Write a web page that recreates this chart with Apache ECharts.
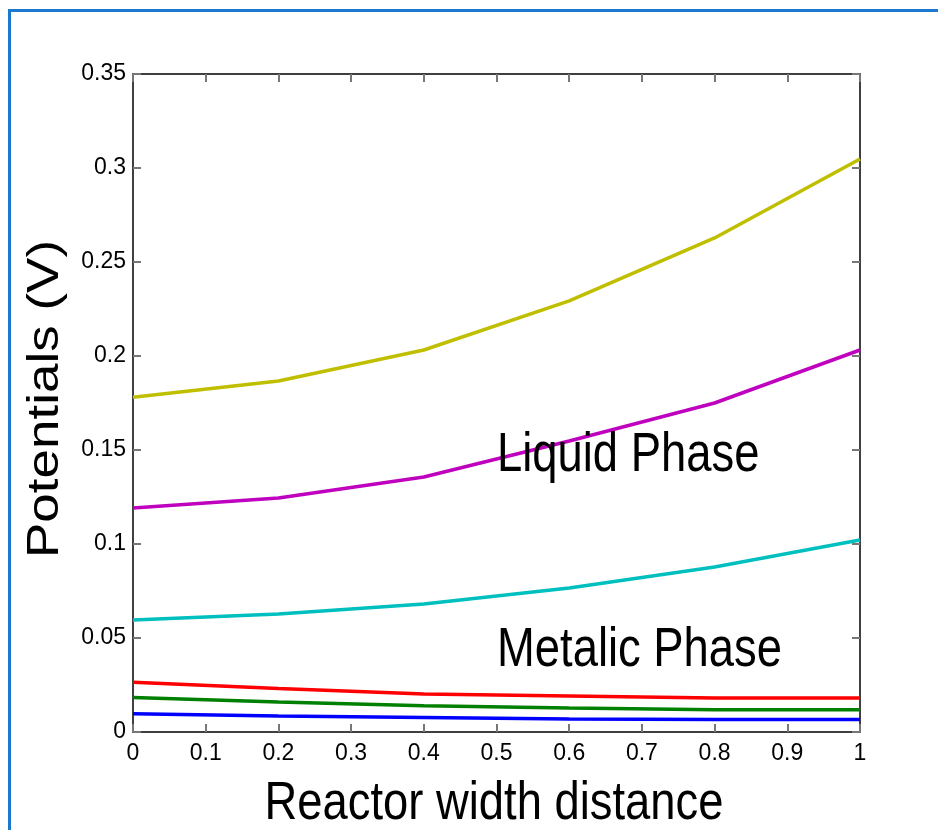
<!DOCTYPE html>
<html>
<head>
<meta charset="utf-8">
<script src="https://cdn.jsdelivr.net/npm/echarts@6/dist/echarts.min.js"></script>
<style>
html,body{margin:0;padding:0;background:#fff;}
#chart{width:938px;height:830px;}
</style>
</head>
<body>
<div id="chart"></div>
<script>
// Data
var xValues = [0, 0.2, 0.4, 0.6, 0.8, 1];
var yellowSeries = [0.178, 0.1867, 0.2032, 0.2293, 0.2628, 0.3048];
var magentaSeries = [0.1191, 0.1245, 0.1356, 0.1548, 0.175, 0.2032];
var cyanSeries = [0.0596, 0.0628, 0.0681, 0.0766, 0.0878, 0.1021];
var redSeries = [0.0264, 0.0231, 0.0202, 0.0191, 0.0181, 0.0181];
var greenSeries = [0.0183, 0.016, 0.0139, 0.0128, 0.0119, 0.0119];
var blueSeries = [0.0097, 0.0085, 0.0077, 0.0069, 0.0066, 0.0066];
var xTitle = 'Reactor width distance';
var yTitle = 'Potentials (V)';
var annotations = ['Liquid Phase', 'Metalic Phase'];

var FONT = '"Liberation Sans", Arial, Helvetica, sans-serif';
function pairs(ys) { return xValues.map(function (x, i) { return [x, ys[i]]; }); }

var seriesDefs = [
  { data: yellowSeries, color: '#bfbf00' },
  { data: magentaSeries, color: '#bf00bf' },
  { data: cyanSeries, color: '#00bfbf' },
  { data: redSeries, color: '#ff0000' },
  { data: greenSeries, color: '#008000' },
  { data: blueSeries, color: '#0000ff' }
];

var chart = echarts.init(document.getElementById('chart'), null, { renderer: 'canvas' });

var tickStyle = { show: true, inside: true, length: 8, lineStyle: { color: '#777', width: 2 } };
var lineStyleAxis = { show: true, onZero: false, lineStyle: { color: '#000', width: 1.5 } };
var labelStyle = { fontFamily: FONT, fontSize: 23, color: '#000' };

var option = {
  animation: false,
  backgroundColor: '#fff',
  grid: { left: 133, right: 78, top: 74, bottom: 98, containLabel: false },
  xAxis: [
    {
      type: 'value', min: 0, max: 1, interval: 0.1, position: 'bottom',
      axisLine: lineStyleAxis, axisTick: tickStyle, splitLine: { show: false },
      axisLabel: Object.assign({ margin: 10, formatter: function (v) { return String(+v.toFixed(1)); } }, labelStyle)
    },
    {
      type: 'value', min: 0, max: 1, interval: 0.1, position: 'top',
      axisLine: lineStyleAxis, axisTick: tickStyle, splitLine: { show: false },
      axisLabel: { show: false }
    }
  ],
  yAxis: [
    {
      type: 'value', min: 0, max: 0.35, interval: 0.05, position: 'left',
      axisLine: lineStyleAxis, axisTick: tickStyle, splitLine: { show: false },
      axisLabel: Object.assign({ margin: 7, formatter: function (v) { return String(+v.toFixed(2)); } }, labelStyle)
    },
    {
      type: 'value', min: 0, max: 0.35, interval: 0.05, position: 'right',
      axisLine: lineStyleAxis, axisTick: tickStyle, splitLine: { show: false },
      axisLabel: { show: false }
    }
  ],
  series: seriesDefs.map(function (s) {
    return {
      type: 'line', data: pairs(s.data), xAxisIndex: 0, yAxisIndex: 0,
      symbol: 'none', smooth: false,
      lineStyle: { color: s.color, width: 3.5 }, itemStyle: { color: s.color }
    };
  }),
  graphic: [
    {
      type: 'rect', silent: true, z: 100,
      shape: { x: 9.5, y: 10.5, width: 1200, height: 1200 },
      style: { fill: 'none', stroke: '#1a78cf', lineWidth: 3 }
    },
    {
      type: 'text', x: 494, y: 804, scaleX: 0.84, z: 100,
      style: { x: 0, y: 0, text: xTitle, font: '54px ' + FONT, fill: '#000', textAlign: 'center', textVerticalAlign: 'middle' }
    },
    {
      type: 'text', x: 46, y: 399, rotation: Math.PI / 2, scaleY: 0.84, z: 100,
      style: { x: 0, y: 0, text: yTitle, font: '53px ' + FONT, fill: '#000', textAlign: 'center', textVerticalAlign: 'middle' }
    },
    {
      type: 'text', x: 497, y: 456, scaleX: 0.825, z: 100,
      style: { x: 0, y: 0, text: annotations[0], font: '55px ' + FONT, fill: '#000', textAlign: 'left', textVerticalAlign: 'middle' }
    },
    {
      type: 'text', x: 497, y: 651, scaleX: 0.825, z: 100,
      style: { x: 0, y: 0, text: annotations[1], font: '55px ' + FONT, fill: '#000', textAlign: 'left', textVerticalAlign: 'middle' }
    }
  ]
};
chart.setOption(option);
</script>
</body>
</html>
